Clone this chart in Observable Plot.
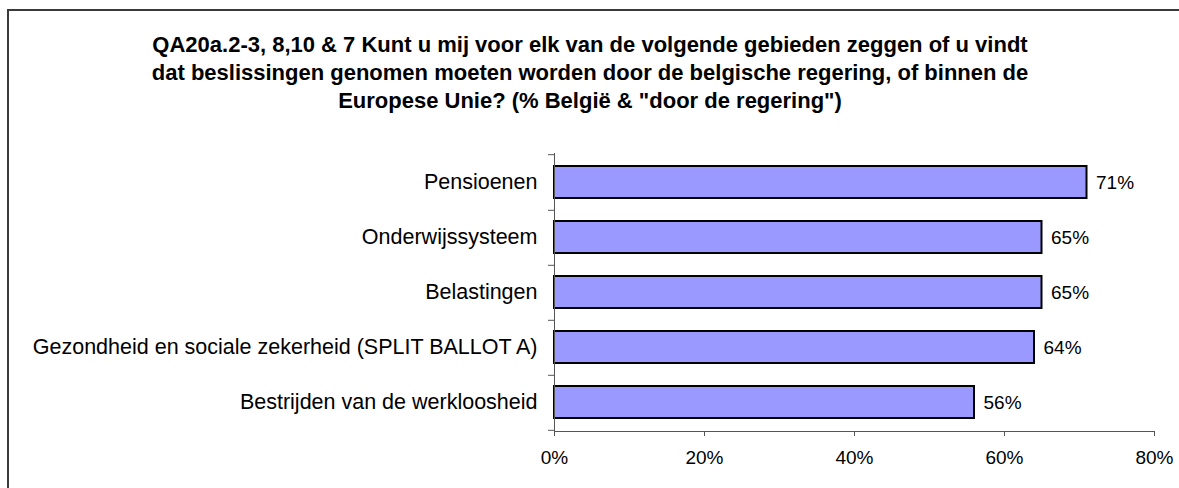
<!DOCTYPE html>
<html>
<head>
<meta charset="utf-8">
<script src="https://cdn.jsdelivr.net/npm/d3@7"></script>
<script src="https://cdn.jsdelivr.net/npm/@observablehq/plot@0.6"></script>
<style>
  html, body { margin: 0; padding: 0; background: #fff; overflow: hidden; }
  #wrap { position: relative; width: 1179px; height: 488px; overflow: hidden; font-family: "Liberation Sans", Arial, sans-serif; }
  #frameTop { position: absolute; left: 7px; top: 9px; width: 1172px; height: 2px; background: #3a3a3a; }
  #frameLeft { position: absolute; left: 7px; top: 9px; width: 2px; height: 479px; background: #3a3a3a; }
  #title { position: absolute; left: 8px; top: 31px; width: 1164px; text-align: center; font-weight: bold; font-size: 22px; line-height: 28px; color: #000; }
  #chart { position: absolute; left: 0; top: 0; }
</style>
</head>
<body>
<div id="wrap">
  <div id="frameTop"></div>
  <div id="frameLeft"></div>
  <div id="title">QA20a.2-3, 8,10 &amp; 7 Kunt u mij voor elk van de volgende gebieden zeggen of u vindt<br>dat beslissingen genomen moeten worden door de belgische regering, of binnen de<br>Europese Unie? (% België &amp; "door de regering")</div>
  <div id="chart"></div>
</div>
<script>
const categories = [
  "Pensioenen",
  "Onderwijssysteem",
  "Belastingen",
  "Gezondheid en sociale zekerheid (SPLIT BALLOT A)",
  "Bestrijden van de werkloosheid"
];
const values = [71, 65, 65, 64, 56];
const xTicks = [0, 20, 40, 60, 80];

const data = categories.map((c, i) => ({category: c, value: values[i]}));

const marginTop = 153, marginBottom = 57;
const H = 488;
const step = (H - marginTop - marginBottom) / categories.length;

const chart = Plot.plot({
  width: 1179,
  height: H,
  marginLeft: 554,
  marginRight: 25,
  marginTop,
  marginBottom,
  style: {fontFamily: "'Liberation Sans', Arial, sans-serif", background: "transparent", color: "#000"},
  x: {domain: [0, 80], ticks: xTicks},
  y: {domain: categories, paddingInner: 0.425, paddingOuter: 0.2125},
  marks: [
    Plot.barX(data, {y: "category", x: "value", fill: "#9999FF", stroke: "#000", strokeWidth: 2}),
    Plot.text(data, {y: "category", x: "value", text: d => d.value + "%", textAnchor: "start", dx: 9, fontSize: 19}),
    Plot.ruleY([categories[0]], {x1: -0.8, x2: 0, dy: -step / 2, stroke: "#555"}),
    Plot.ruleY(categories, {x1: -0.8, x2: 0, dy: step / 2, stroke: "#555"}),
    Plot.frame({anchor: "left", stroke: "#555"}),
    Plot.frame({anchor: "bottom", stroke: "#555"}),
    Plot.axisX({ticks: xTicks, tickFormat: d => d + "%", tickSize: 5, tickPadding: 14, fontSize: 19, label: null, stroke: "#555"}),
    Plot.axisY({tickSize: 0, tickPadding: 17, fontSize: 21.5, label: null})
  ]
});
document.getElementById("chart").appendChild(chart);
</script>
</body>
</html>
